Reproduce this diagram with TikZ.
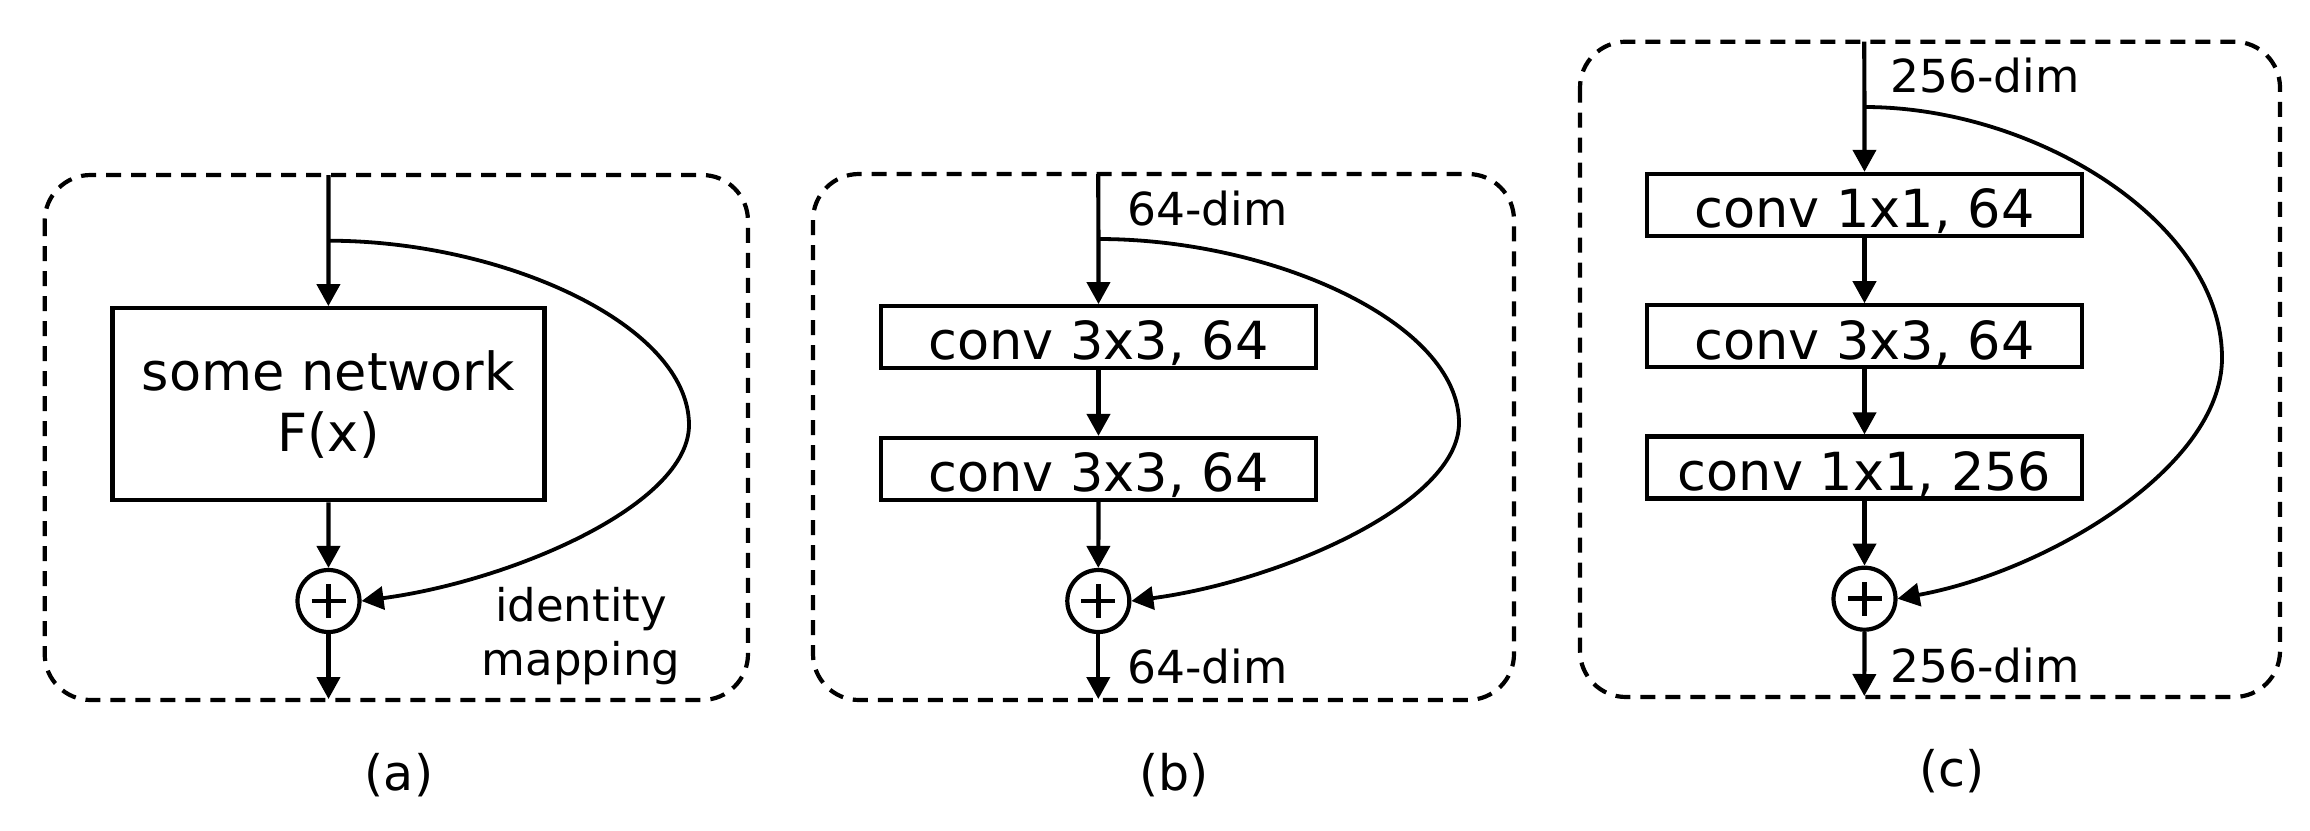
\documentclass[tikz,border=0pt]{standalone}
\usepackage{fontspec}
\setmainfont{DejaVu Sans}
\usetikzlibrary{arrows.meta}
\begin{document}
\begin{tikzpicture}[x=1pt,y=-1pt,
  panel/.style={draw, line width=4.2pt, dash pattern=on 15pt off 10pt, rounded corners=46pt},
  arr/.style={line width=4.2pt, -{Triangle[length=22pt,width=23pt]}},
  curvearr/.style={line width=3.8pt, -{Triangle[length=22pt,width=23pt]}},
  netbox/.style={draw, line width=4.2pt, minimum width=432pt, minimum height=192pt, inner sep=0pt, align=center, font=\fontsize{52.5}{61}\selectfont},
  convbox/.style={draw, line width=4.2pt, minimum width=434.5pt, minimum height=62pt, inner sep=0pt, text height=45.4pt, text depth=0pt, font=\fontsize{52.5}{60}\selectfont},
  sumnode/.style={draw, circle, line width=4.2pt, minimum size=62pt, inner sep=0pt,
    path picture={
      \draw[line width=4.6pt] ([xshift=-17pt]path picture bounding box.center) -- ([xshift=17pt]path picture bounding box.center);
      \draw[line width=4.6pt] ([yshift=-17pt]path picture bounding box.center) -- ([yshift=17pt]path picture bounding box.center);
    }},
  dimlabel/.style={anchor=base west, inner sep=0pt, font=\fontsize{45.5}{50}\selectfont},
  idlabel/.style={anchor=base, inner sep=0pt, font=\fontsize{45}{50}\selectfont},
  caption/.style={anchor=base, inner sep=0pt, font=\fontsize{49}{55}\selectfont}
]
\fill[white] (0,0) rectangle (2310,830);
\useasboundingbox (0,0) rectangle (2310,830);

% dashed panels
\draw[panel] (44.7,175) rectangle (748,700);
\draw[panel] (813,174) rectangle (1514,700);
\draw[panel] (1580,41.7) rectangle (2280,697);

% ---------- (a)
\coordinate (ina) at (328.5,175);
\coordinate (bra) at (328.5,240.7);
\node[netbox] (fa) at (328.4,404.2) {some network\\F(x)};
\node[sumnode] (pa) at (328.5,601) {};
\coordinate (outa) at (328.5,699);
\coordinate (mida) at (689,425);
\draw[arr] (ina) -- (fa.north);
\draw[arr] (fa.south) -- (pa.north);
\draw[arr] (pa.south) -- (outa);
\draw[curvearr] (bra) .. controls +(175,0) and +(0,-100) .. (mida) .. controls +(0,80) and +(150,-20) .. (pa.east);
\node[idlabel] (ida) at (581,621.7) {identity};
\node[idlabel] (mapa) at (581,675) {mapping};
\node[caption] (capa) at (399,790) {(a)};

% ---------- (b)
\coordinate (inb) at (1098.3,174);
\coordinate (brb) at (1098.3,239);
\node[convbox] (b1) at (1098.5,337.2) {conv 3x3, 64};
\node[convbox] (b2) at (1098.5,469) {conv 3x3, 64};
\node[sumnode] (pb) at (1098.3,601) {};
\coordinate (outb) at (1098.3,699);
\coordinate (midb) at (1459,423);
\draw[arr] (inb) -- (b1.north);
\draw[arr] (b1.south) -- (b2.north);
\draw[arr] (b2.south) -- (pb.north);
\draw[arr] (pb.south) -- (outb);
\draw[curvearr] (brb) .. controls +(175,0) and +(0,-100) .. (midb) .. controls +(0,80) and +(150,-20) .. (pb.east);
\node[dimlabel] (db1) at (1127,225) {64-dim};
\node[dimlabel] (db2) at (1127,683) {64-dim};
\node[caption] (capb) at (1174,790) {(b)};

% ---------- (c)
\coordinate (inc) at (1864.3,41.7);
\coordinate (brc) at (1864.3,107);
\node[convbox] (c1) at (1864.5,204.9) {conv 1x1, 64};
\node[convbox] (c2) at (1864.5,336.3) {conv 3x3, 64};
\node[convbox] (c3) at (1864.5,467.5) {conv 1x1, 256};
\node[sumnode] (pc) at (1864.5,598.7) {};
\coordinate (outc) at (1864.3,696);
\coordinate (midc) at (2222,358);
\draw[arr] (inc) -- (c1.north);
\draw[arr] (c1.south) -- (c2.north);
\draw[arr] (c2.south) -- (c3.north);
\draw[arr] (c3.south) -- (pc.north);
\draw[arr] (pc.south) -- (outc);
\draw[curvearr] (brc) .. controls +(172,0) and +(0,-135) .. (midc) .. controls +(0,110) and +(148,-27) .. (pc.east);
\node[dimlabel] (dc1) at (1890,92.7) {256-dim};
\node[dimlabel] (dc2) at (1890,682.7) {256-dim};
\node[caption] (capc) at (1952,786) {(c)};
\end{tikzpicture}
\end{document}
